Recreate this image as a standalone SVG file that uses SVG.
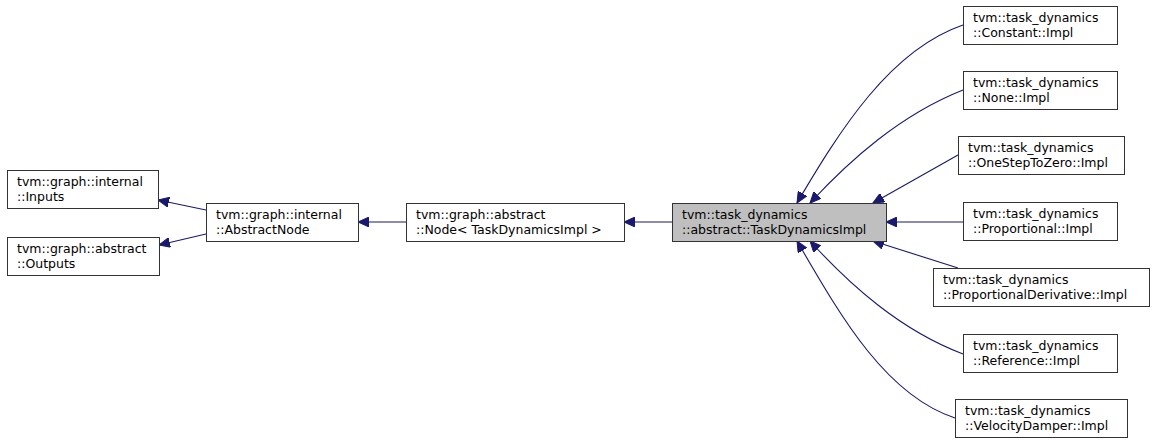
<svg xmlns="http://www.w3.org/2000/svg" width="1155" height="444" viewBox="0 0 1155 444">
<defs>
<style>
.n rect{fill:#fff;stroke:#333;stroke-width:1}
.n.cur rect{fill:#bfbfbf}
text{font-family:"DejaVu Sans",sans-serif;font-size:12.5px;fill:#000}
.e path{fill:none;stroke:#191970;stroke-width:1.1}
</style>
<marker id="a" markerWidth="12" markerHeight="10" refX="11" refY="5" orient="auto" markerUnits="userSpaceOnUse">
<path d="M0,0 L11,5 L0,10 Z" fill="#191970" stroke="#191970"/>
</marker>
</defs>
<rect width="1155" height="444" fill="#fff"/>
<g class="e">
<path d="M206,210 L158,200" marker-end="url(#a)"/>
<path d="M206,234 L159,245" marker-end="url(#a)"/>
<path d="M406,222 L358,222" marker-end="url(#a)"/>
<path d="M672,222 L624,222" marker-end="url(#a)"/>
<path d="M963,222 L886,222" marker-end="url(#a)"/>
<path d="M958,155 L873,203" marker-end="url(#a)"/>
<path d="M958,268 L873,241" marker-end="url(#a)"/>
<path d="M963,90 C900,115 850,160 810,203" marker-end="url(#a)"/>
<path d="M963,25 C890,50 840,130 797,203" marker-end="url(#a)"/>
<path d="M963,354 C900,330 850,285 810,241" marker-end="url(#a)"/>
<path d="M955,418 C885,395 840,315 797,241" marker-end="url(#a)"/>
</g>
<g class="n" id="inputs"><rect x="7.5" y="170.5" width="151" height="38"/><text x="17" y="186">tvm::graph::internal</text><text x="17" y="201">::Inputs</text></g>
<g class="n" id="outputs"><rect x="7.5" y="237.5" width="152" height="38"/><text x="17" y="253">tvm::graph::abstract</text><text x="17" y="268">::Outputs</text></g>
<g class="n" id="abstractnode"><rect x="206.5" y="203.5" width="152" height="38"/><text x="216" y="219">tvm::graph::internal</text><text x="216" y="234">::AbstractNode</text></g>
<g class="n" id="node"><rect x="406.5" y="203.5" width="218" height="38"/><text x="416" y="219">tvm::graph::abstract</text><text x="416" y="234">::Node&lt; TaskDynamicsImpl &gt;</text></g>
<g class="n cur" id="tdi"><rect x="672.5" y="203.5" width="214" height="38"/><text x="682" y="219">tvm::task_dynamics</text><text x="682" y="234">::abstract::TaskDynamicsImpl</text></g>
<g class="n" id="constant"><rect x="963.5" y="6.5" width="154" height="38"/><text x="973" y="22">tvm::task_dynamics</text><text x="973" y="37">::Constant::Impl</text></g>
<g class="n" id="none"><rect x="963.5" y="71.5" width="154" height="38"/><text x="973" y="87">tvm::task_dynamics</text><text x="973" y="102">::None::Impl</text></g>
<g class="n" id="onestep"><rect x="958.5" y="136.5" width="166" height="38"/><text x="968" y="152">tvm::task_dynamics</text><text x="968" y="167">::OneStepToZero::Impl</text></g>
<g class="n" id="prop"><rect x="963.5" y="202.5" width="154" height="38"/><text x="973" y="218">tvm::task_dynamics</text><text x="973" y="233">::Proportional::Impl</text></g>
<g class="n" id="propder"><rect x="933.5" y="268.5" width="216" height="38"/><text x="943" y="284">tvm::task_dynamics</text><text x="943" y="299">::ProportionalDerivative::Impl</text></g>
<g class="n" id="ref"><rect x="963.5" y="334.5" width="154" height="38"/><text x="973" y="350">tvm::task_dynamics</text><text x="973" y="365">::Reference::Impl</text></g>
<g class="n" id="vd"><rect x="955.5" y="399.5" width="172" height="38"/><text x="965" y="415">tvm::task_dynamics</text><text x="965" y="430">::VelocityDamper::Impl</text></g>
</svg>
